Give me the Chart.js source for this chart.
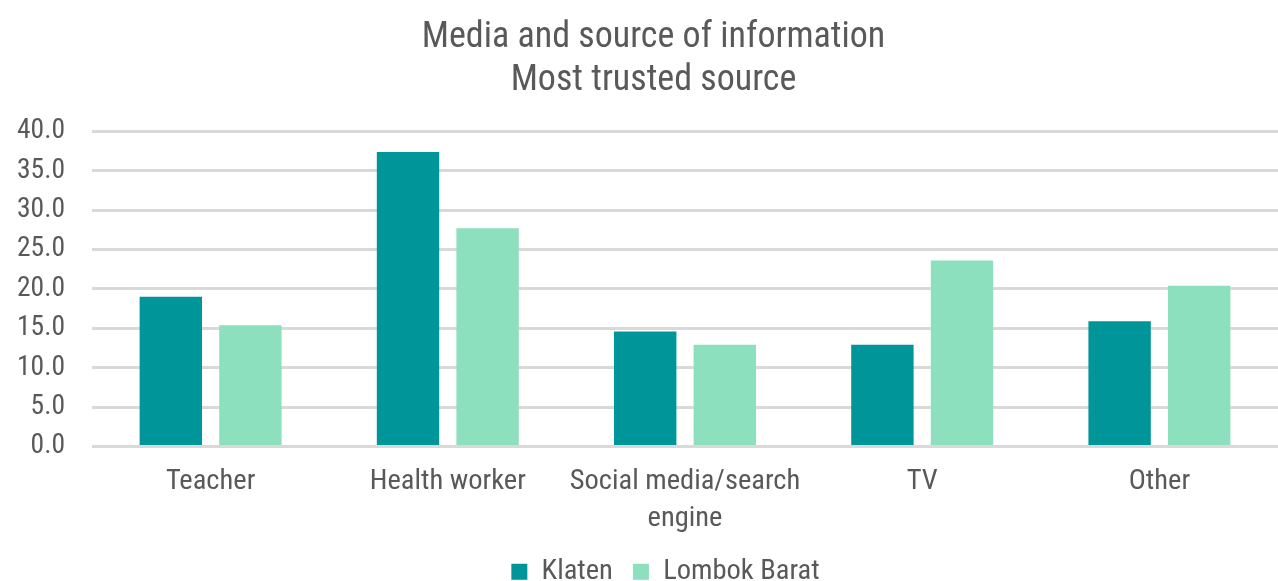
<!DOCTYPE html>
<html>
<head>
<meta charset="utf-8">
<script src="https://cdn.jsdelivr.net/npm/chart.js@4.4.1/dist/chart.umd.min.js"></script>
<style>
    html, body { margin: 0; padding: 0; background: #ffffff; }
    #wrap { width: 1278px; height: 581px; position: relative; }
</style>
</head>
<body>
<div id="wrap"><canvas id="trustChart"></canvas></div>
<script>
var categories = ['Teacher', 'Health worker', ['Social media/search', 'engine'], 'TV', 'Other'];
var klaten = [19.0, 37.4, 14.6, 12.9, 15.9];
var lombokBarat = [15.4, 27.7, 12.9, 23.6, 20.4];
var yTicks = [0, 5, 10, 15, 20, 25, 30, 35, 40];

var textColor = '#595959';
var fontFamily = "'Roboto Condensed', Roboto, sans-serif";

// nudge the legend row a bit to the right
var legendShift = {
    id: 'legendShift',
    afterLayout: function(chart) {
        if (chart.legend) {
            chart.legend.left += 12;
            chart.legend.right += 12;
        }
    }
};

document.addEventListener("DOMContentLoaded", function() {
    var ctx = document.getElementById('trustChart').getContext('2d');

    window.myChart = new Chart(ctx, {
        type: 'bar',
        data: {
            labels: categories,
            datasets: [{
                label: 'Klaten',
                data: klaten,
                backgroundColor: '#009599',
                barPercentage: 0.784,
                categoryPercentage: 0.671
            }, {
                label: 'Lombok Barat',
                data: lombokBarat,
                backgroundColor: '#8de0bd',
                barPercentage: 0.784,
                categoryPercentage: 0.671
            }]
        },
        plugins: [legendShift],
        options: {
            responsive: true,
            maintainAspectRatio: false,
            animation: false,
            layout: {
                // plot area runs a little past the right edge
                padding: { left: 17, right: -12, top: 0, bottom: -15 }
            },
            plugins: {
                title: {
                    display: true,
                    text: ['Media and source of information', 'Most trusted source'],
                    color: textColor,
                    font: { family: fontFamily, size: 36, weight: 'normal', lineHeight: 1.2 },
                    padding: { top: 16, bottom: 29 }
                },
                legend: {
                    display: true,
                    position: 'bottom',
                    labels: {
                        color: textColor,
                        boxWidth: 16,
                        boxHeight: 16,
                        padding: 20,
                        font: { family: fontFamily, size: 28.5, lineHeight: 1 }
                    }
                },
                tooltip: { enabled: false }
            },
            scales: {
                y: {
                    min: yTicks[0],
                    max: yTicks[yTicks.length - 1],
                    afterBuildTicks: function(scale) {
                        scale.ticks = yTicks.map(function(v) { return { value: v }; });
                    },
                    afterFit: function(scale) {
                        scale.width = 75;
                    },
                    ticks: {
                        color: textColor,
                        padding: 27,
                        font: { family: fontFamily, size: 27.5 },
                        callback: function(value) { return value.toFixed(1); }
                    },
                    border: { display: false },
                    grid: {
                        color: '#d9d9d9',
                        lineWidth: 3,
                        drawTicks: false
                    }
                },
                x: {
                    ticks: {
                        color: textColor,
                        padding: 17,
                        maxRotation: 0,
                        autoSkip: false,
                        font: { family: fontFamily, size: 28.5, lineHeight: 1.3 }
                    },
                    border: { display: false },
                    grid: { display: false, drawTicks: false },
                    afterFit: function(scale) {
                        scale.height -= 17;
                    }
                }
            }
        }
    });
});
</script>
</body>
</html>
